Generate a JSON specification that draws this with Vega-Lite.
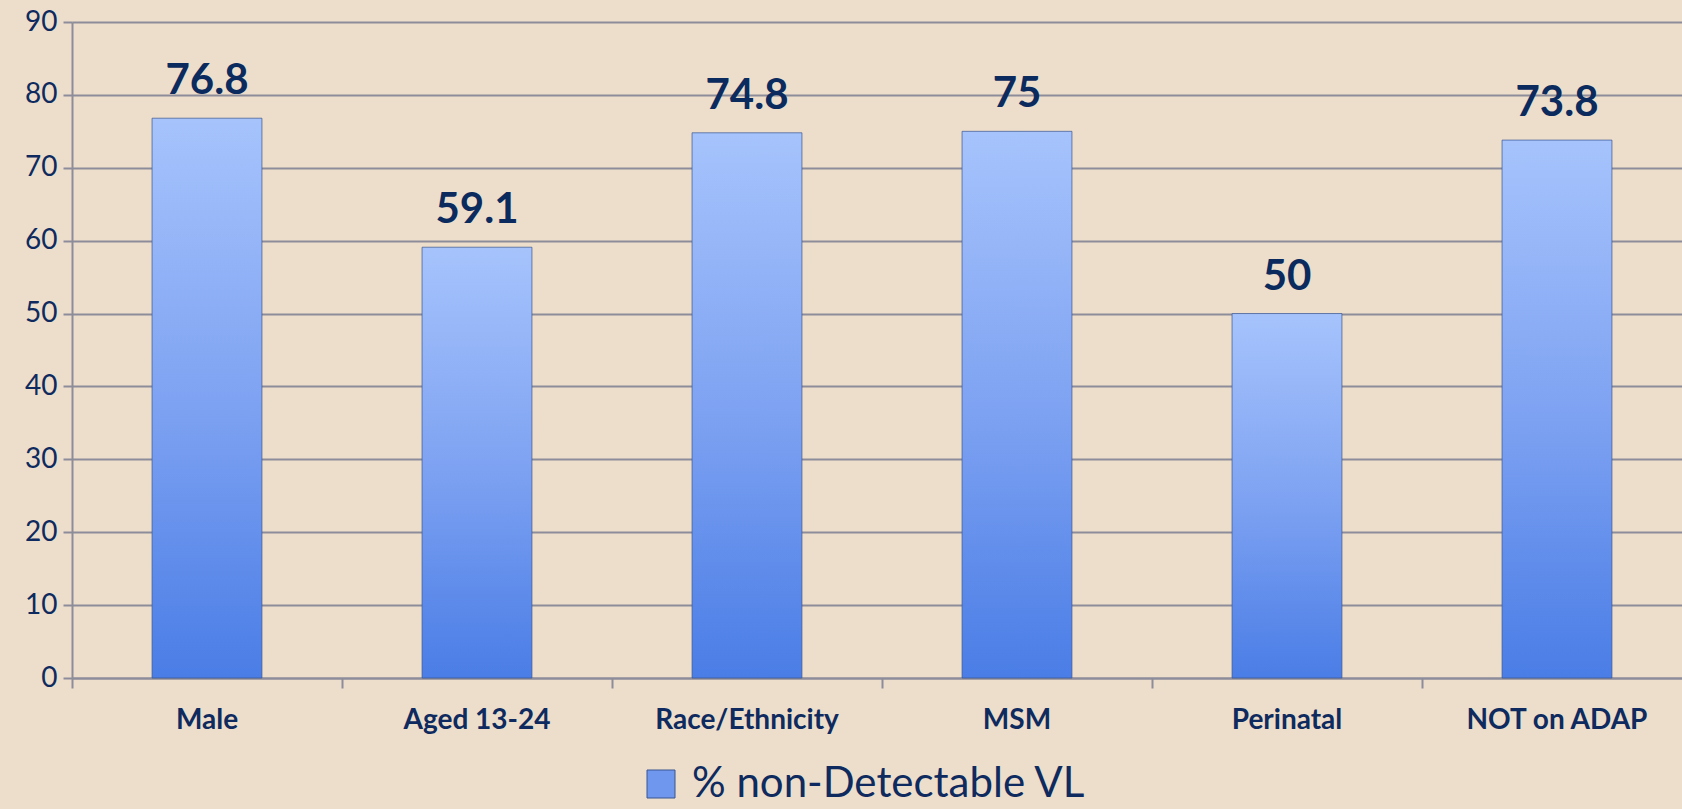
{
  "$schema": "https://vega.github.io/schema/vega-lite/v6.json",
  "autosize": {"type": "none"},
  "padding": {"left": 72, "top": 22, "right": 0, "bottom": 131},
  "width": 1610,
  "height": 656,
  "background": "#ecdecb",
  "config": {
    "view": {"stroke": null},
    "font": "Lato"
  },
  "data": {
    "values": [
      {"group": "Male", "value": 76.8, "series": "% non-Detectable VL"},
      {"group": "Aged 13-24", "value": 59.1, "series": "% non-Detectable VL"},
      {"group": "Race/Ethnicity", "value": 74.8, "series": "% non-Detectable VL"},
      {"group": "MSM", "value": 75, "series": "% non-Detectable VL"},
      {"group": "Perinatal", "value": 50, "series": "% non-Detectable VL"},
      {"group": "NOT on ADAP", "value": 73.8, "series": "% non-Detectable VL"}
    ]
  },
  "encoding": {
    "x": {
      "field": "group",
      "type": "nominal",
      "sort": null,
      "scale": {"paddingInner": 0, "paddingOuter": 0, "range": [0, 1620]},
      "axis": {
        "title": null,
        "labelAngle": 0,
        "bandPosition": 0,
        "labelFont": "Lato",
        "labelFontWeight": "bold",
        "labelFontSize": 28,
        "labelColor": "#0e2a5e",
        "labelPadding": 18,
        "labelLimit": 400,
        "tickSize": 10,
        "tickColor": "#8c8c9a",
        "tickWidth": 2,
        "domainColor": "#8c8c9a",
        "domainWidth": 2,
        "grid": false
      }
    },
    "y": {
      "field": "value",
      "type": "quantitative",
      "scale": {"domain": [0, 90], "nice": false},
      "axis": {
        "title": null,
        "values": [0, 10, 20, 30, 40, 50, 60, 70, 80, 90],
        "labelFont": "Lato",
        "labelFontSize": 28,
        "labelColor": "#0e2a5e",
        "labelPadding": 6,
        "tickSize": 9,
        "tickColor": "#8c8c9a",
        "tickWidth": 2,
        "domainColor": "#8c8c9a",
        "domainWidth": 2,
        "grid": true,
        "gridColor": "#8c8c9a",
        "gridWidth": 2,
        "gridOpacity": 1
      }
    }
  },
  "layer": [
    {
      "mark": {
        "type": "bar",
        "width": {"band": 0.407},
        "stroke": "#3b5590",
        "strokeWidth": 1,
        "strokeOpacity": 0.7,
        "fill": {
          "gradient": "linear",
          "x1": 0, "y1": 0, "x2": 0, "y2": 1,
          "stops": [
            {"offset": 0, "color": "#a6c3fc"},
            {"offset": 0.5, "color": "#7fa3f2"},
            {"offset": 1, "color": "#4a7de6"}
          ]
        }
      }
    },
    {
      "mark": {"type": "point", "shape": "square", "filled": true, "opacity": 0},
      "encoding": {
        "color": {
          "field": "series",
          "type": "nominal",
          "scale": {"range": ["#6f97ee"]},
          "legend": {
            "title": null,
            "orient": "none",
            "legendX": 568,
            "legendY": 741,
            "padding": 0,
            "symbolType": "square",
            "symbolSize": 784,
            "symbolOpacity": 1,
            "symbolStrokeColor": "#3b5590",
            "symbolStrokeWidth": 1,
            "labelFont": "Lato",
            "labelFontSize": 42,
            "labelColor": "#0e2a5e",
            "labelOffset": 10,
            "labelLimit": 600
          }
        }
      }
    },
    {
      "mark": {
        "type": "text",
        "font": "Lato",
        "fontWeight": "bold",
        "fontSize": 42,
        "color": "#0b2a5e",
        "baseline": "alphabetic",
        "dy": -24
      },
      "encoding": {
        "text": {"field": "value", "type": "quantitative"}
      }
    }
  ]
}
